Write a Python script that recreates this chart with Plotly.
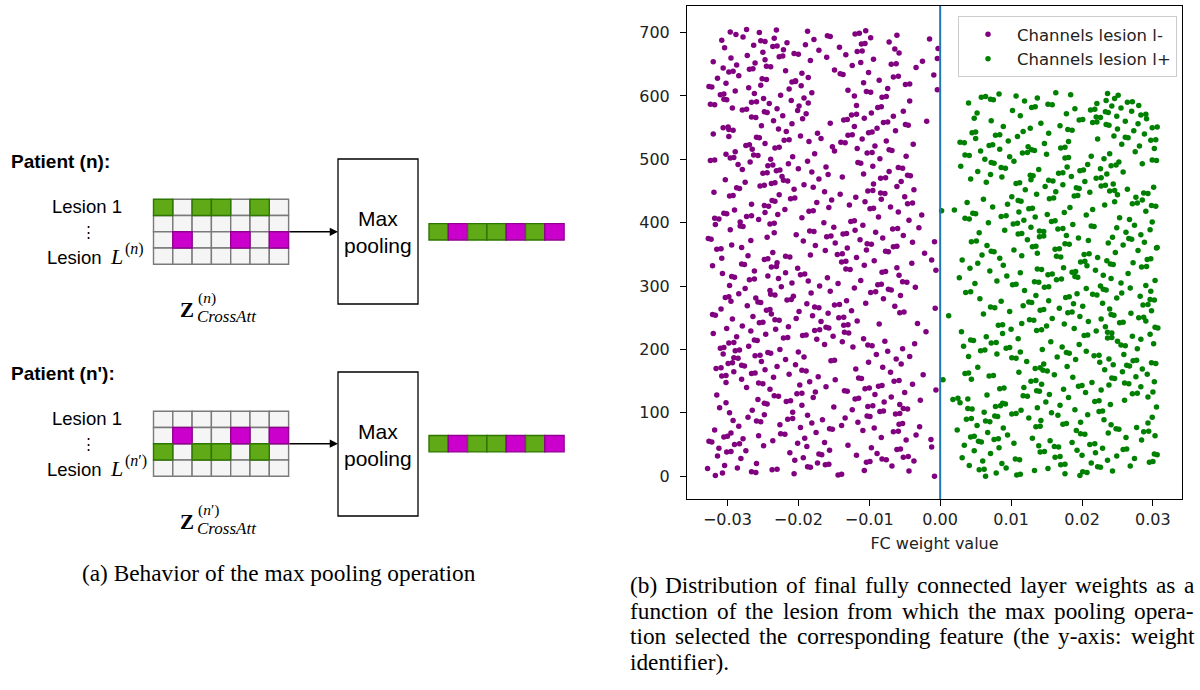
import plotly.graph_objects as go

# ---------------- DATA ----------------
# FC weights whose max-pooled channel came from lesion l- (list index = weight identifier)
weights_lesion_minus = [
    -0.0008, -0.0317, -0.0144, -0.0139, -0.0206, -0.0307, -0.0260, -0.0266, -0.0044, -0.0107, -0.0237, -0.0230, -0.0328, -0.0286, -0.0183, -0.0187, -0.0068, -0.0304, -0.0162, -0.0157,
    -0.0259, -0.0173, -0.0104, -0.0099, -0.0037, -0.0205, -0.0076, -0.0082, -0.0281, -0.0193, -0.0052, -0.0045, -0.0314, -0.0118, -0.0167, -0.0171, -0.0089, -0.0212, -0.0301, -0.0295,
    -0.0274, -0.0156, -0.0061, -0.0056, -0.0312, -0.0097, -0.0012, -0.0188, -0.0249, -0.0130, -0.0290, -0.0283, -0.0201, -0.0163, -0.0322, -0.0326, -0.0236, -0.0048, -0.0013, -0.0278,
    -0.0191, -0.0083, -0.0305, -0.0300, -0.0256, -0.0034, -0.0219, -0.0225, -0.0295, -0.0175, -0.0066, -0.0059, -0.0109, -0.0318, -0.0152, -0.0156, -0.0093, -0.0197, -0.0029, -0.0284,
    -0.0139, -0.0226, -0.0058, -0.0053, -0.0181, -0.0116, -0.0253, -0.0259, -0.0292, -0.0166, -0.0215, -0.0208, -0.0134, -0.0271, -0.0099, -0.0103, -0.0187, -0.0248, -0.0063, -0.0057,
    -0.0297, -0.0208, -0.0085, -0.0080, -0.0265, -0.0124, -0.0046, -0.0052, -0.0311, -0.0150, -0.0102, -0.0095, -0.0195, -0.0057, -0.0244, -0.0248, -0.0302, -0.0079, -0.0217, -0.0211,
    -0.0028, -0.0257, -0.0120, -0.0115, -0.0179, -0.0069, -0.0228, -0.0234, -0.0315, -0.0092, -0.0202, -0.0195, -0.0050, -0.0176, -0.0131, -0.0135, -0.0006, -0.0240, -0.0106, -0.0100,
    -0.0273, -0.0161, -0.0087, -0.0082, -0.0198, -0.0039, -0.0250, -0.0256, -0.0302, -0.0184, -0.0065, -0.0058, -0.0148, -0.0280, -0.0111, -0.0115, -0.0235, -0.0172, -0.0308, -0.0302,
    -0.0024, -0.0213, -0.0266, -0.0261, -0.0070, -0.0291, -0.0189, -0.0195, -0.0247, -0.0119, -0.0316, -0.0309, -0.0081, -0.0230, -0.0276, -0.0280, -0.0204, -0.0055, -0.0299, -0.0293,
    -0.0101, -0.0252, -0.0154, -0.0149, -0.0218, -0.0062, -0.0285, -0.0291, -0.0192, -0.0043, -0.0261, -0.0254, -0.0090, -0.0306, -0.0239, -0.0243, -0.0200, -0.0074, -0.0289, -0.0283,
    -0.0226, -0.0053, -0.0310, -0.0305, -0.0123, -0.0270, -0.0096, -0.0102, -0.0163, -0.0036, -0.0298, -0.0291, -0.0138, -0.0078, -0.0258, -0.0262, -0.0174, -0.0108, -0.0221, -0.0215,
    -0.0287, -0.0151, -0.0194, -0.0189, -0.0246, -0.0320, -0.0129, -0.0135, -0.0020, -0.0267, -0.0177, -0.0170, -0.0232, -0.0301, -0.0157, -0.0161, -0.0214, -0.0279, -0.0136, -0.0130,
    -0.0086, -0.0032, -0.0255, -0.0250, -0.0168, -0.0117, -0.0227, -0.0233, -0.0293, -0.0203, -0.0143, -0.0136, -0.0264, -0.0180, -0.0317, -0.0321, -0.0238, -0.0158, -0.0057, -0.0051,
    -0.0199, -0.0125, -0.0245, -0.0240, -0.0309, -0.0007, -0.0171, -0.0177, -0.0064, -0.0272, -0.0149, -0.0142, -0.0188, -0.0105, -0.0253, -0.0257, -0.0295, -0.0132, -0.0216, -0.0210,
    -0.0080, -0.0260, -0.0303, -0.0298, -0.0207, -0.0056, -0.0233, -0.0239, -0.0284, -0.0182, -0.0098, -0.0091, -0.0155, -0.0240, -0.0069, -0.0073, -0.0275, -0.0121, -0.0035, -0.0224,
    -0.0170, -0.0297, -0.0088, -0.0083, -0.0144, -0.0209, -0.0047, -0.0053, -0.0186, -0.0112, -0.0269, -0.0262, -0.0228, -0.0159, -0.0290, -0.0294, -0.0243, -0.0058, -0.0197, -0.0191,
    -0.0307, -0.0218, -0.0082, -0.0077, -0.0262, -0.0006, -0.0127, -0.0133, -0.0201, -0.0061, -0.0238, -0.0231, -0.0321, -0.0107, -0.0276, -0.0280, -0.0040, -0.0230, -0.0139, -0.0133,
    -0.0093, -0.0012, -0.0248, -0.0243, -0.0308, -0.0118, -0.0212, -0.0218, -0.0271, -0.0183, -0.0145, -0.0138, -0.0022, -0.0236, -0.0073, -0.0077, -0.0162, -0.0104, -0.0315, -0.0309,
    -0.0131, -0.0280, -0.0066, -0.0061, -0.0176, -0.0294, -0.0097, -0.0103, -0.0148, -0.0039, -0.0008, -0.0193, -0.0267, -0.0113, -0.0323, -0.0327, -0.0081, -0.0244, -0.0160, -0.0154,
    -0.0052, -0.0203, -0.0137, -0.0132, -0.0234, -0.0091, -0.0178, -0.0184, -0.0120, -0.0296, -0.0067, -0.0060, -0.0030, -0.0150, -0.0278, -0.0282, -0.0109, -0.0317, -0.0240, -0.0234,
    -0.0164, -0.0282, -0.0126, -0.0121, -0.0044, -0.0256, -0.0312, -0.0318, -0.0195, -0.0087, -0.0273, -0.0266, -0.0026, -0.0229, -0.0301, -0.0305, -0.0247, -0.0059, -0.0185, -0.0179,
    -0.0290, -0.0219, -0.0099, -0.0094, -0.0157, -0.0070, -0.0242, -0.0248, -0.0128, -0.0266, -0.0046, -0.0039, -0.0174, -0.0106, -0.0233, -0.0237, -0.0153, -0.0083, -0.0211, -0.0205,
    -0.0119, -0.0050, -0.0297, -0.0292, -0.0227, -0.0141, -0.0078, -0.0084, -0.0319, -0.0163, -0.0102, -0.0095, -0.0037, -0.0206, -0.0283, -0.0287, -0.0179, -0.0061, -0.0254, -0.0248,
    -0.0192, -0.0094, -0.0238, -0.0233, -0.0275, -0.0055, -0.0215, -0.0221, -0.0303, -0.0171, -0.0084, -0.0077, -0.0138, -0.0223, -0.0042, -0.0046, -0.0158, -0.0108, -0.0250, -0.0244,
    -0.0181, -0.0072, -0.0231, -0.0226, -0.0279, -0.0200, -0.0053, -0.0059, -0.0161, -0.0095, -0.0243, -0.0236, -0.0285, -0.0214, -0.0112, -0.0116, -0.0268, -0.0187, -0.0324, -0.0318,
    -0.0239, -0.0085, -0.0296, -0.0291, -0.0208, -0.0048, -0.0257, -0.0263, -0.0302, -0.0177, -0.0103, -0.0096, -0.0289, -0.0149, -0.0068, -0.0072, -0.0265, -0.0117, -0.0233, -0.0227,
    -0.0152, -0.0092, -0.0274, -0.0269, -0.0038, -0.0247, -0.0134, -0.0140, -0.0185, -0.0076, -0.0220, -0.0213, -0.0110, -0.0168, -0.0255, -0.0259, -0.0298, -0.0197, -0.0130, -0.0124,
    -0.0320, -0.0173, -0.0101, -0.0096, -0.0217, -0.0063, -0.0292, -0.0298, -0.0228, -0.0089, -0.0306, -0.0299, -0.0121, -0.0252, -0.0045, -0.0049, -0.0209, -0.0155, -0.0080, -0.0074,
    -0.0019, -0.0235, -0.0136, -0.0131, -0.0194, -0.0107, -0.0260, -0.0266, -0.0066, -0.0222, -0.0125, -0.0118, -0.0189, -0.0097, -0.0244, -0.0248, -0.0052, -0.0201, -0.0279, -0.0273,
    -0.0230, -0.0293, -0.0088, -0.0083, -0.0199, -0.0118, -0.0318, -0.0324, -0.0241, -0.0186, -0.0266, -0.0259, -0.0043, -0.0210, -0.0301, -0.0305, -0.0249, -0.0192, -0.0082, -0.0076,
    -0.0121, -0.0225, -0.0310, -0.0305, -0.0262, -0.0181, -0.0098, -0.0104, -0.0289, -0.0130, -0.0004, -0.0213, -0.0074, -0.0270, -0.0322, -0.0326, -0.0196, -0.0253, -0.0049, -0.0043,
    -0.0302, -0.0108, -0.0209, -0.0204, -0.0204, -0.0086, -0.0245, -0.0251, -0.0314, -0.0186, -0.0066, -0.0059, -0.0284, -0.0009, -0.0137, -0.0141, -0.0195, -0.0101, -0.0298, -0.0292,
    -0.0218, -0.0149, -0.0269, -0.0264, -0.0306, -0.0034, -0.0239, -0.0245, -0.0124, -0.0287, -0.0069, -0.0062, -0.0261, -0.0112, -0.0320, -0.0025, -0.0183, -0.0247, -0.0094, -0.0004,
    -0.0295, -0.0160, -0.0227, -0.0222, -0.0272, -0.0133, -0.0200, -0.0206, -0.0058, -0.0250, -0.0117, -0.0110, -0.0171, -0.0221, -0.0064, -0.0003, -0.0304, -0.0142, -0.0236, -0.0230,
    -0.0263, -0.0190, -0.0111, -0.0106, -0.0216, -0.0072, -0.0247, -0.0253, -0.0308, -0.0178, -0.0015, -0.0234, -0.0098, -0.0278, -0.0155, -0.0159, -0.0061, -0.0288, -0.0120, -0.0114,
    -0.0255, -0.0296, -0.0187, -0.0105, -0.0231, -0.0273,
]

# FC weights whose max-pooled channel came from lesion l+ (list index = weight identifier)
weights_lesion_plus = [
    0.0064, 0.0197, 0.0108, 0.0113, 0.0176, 0.0079, 0.0207, 0.0201, 0.0243, 0.0133, 0.0055, 0.0062, 0.0152, 0.0093, 0.0226, 0.0222, 0.0268, 0.0041, 0.0170, 0.0176,
    0.0087, 0.0213, 0.0295, 0.0300, 0.0060, 0.0236, 0.0112, 0.0106, 0.0274, 0.0031, 0.0162, 0.0169, 0.0249, 0.0200, 0.0306, 0.0302, 0.0071, 0.0219, 0.0141, 0.0147,
    0.0048, 0.0193, 0.0258, 0.0263, 0.0229, 0.0083, 0.0167, 0.0161, 0.0139, 0.0034, 0.0211, 0.0218, 0.0104, 0.0186, 0.0058, 0.0054, 0.0155, 0.0284, 0.0076, 0.0082,
    0.0130, 0.0262, 0.0043, 0.0048, 0.0303, 0.0095, 0.0204, 0.0198, 0.0237, 0.0067, 0.0287, 0.0294, 0.0192, 0.0024, 0.0252, 0.0248, 0.0089, 0.0277, 0.0135, 0.0141,
    0.0052, 0.0241, 0.0173, 0.0178, 0.0293, 0.0198, 0.0070, 0.0064, 0.0142, 0.0231, 0.0037, 0.0044, 0.0125, 0.0299, 0.0081, 0.0077, 0.0166, 0.0208, 0.0101, 0.0107,
    0.0157, 0.0062, 0.0224, 0.0229, 0.0114, 0.0190, 0.0045, 0.0039, 0.0137, 0.0305, 0.0078, 0.0085, 0.0169, 0.0240, 0.0092, 0.0088, 0.0028, 0.0149, 0.0218, 0.0224,
    0.0260, 0.0018, 0.0039, 0.0025, 0.0181, 0.0293, 0.0123, 0.0117, 0.0066, 0.0154, 0.0271, 0.0278, 0.0205, 0.0300, 0.0140, 0.0136, 0.0227, 0.0174, 0.0084, 0.0090,
    0.0118, 0.0283, 0.0195, 0.0200, 0.0238, 0.0143, 0.0266, 0.0260, 0.0214, 0.0302, 0.0128, 0.0135, 0.0004, 0.0044, 0.0246, 0.0242, 0.0187, 0.0276, 0.0069, 0.0075,
    0.0161, 0.0292, 0.0035, 0.0040, 0.0111, 0.0257, 0.0151, 0.0145, 0.0232, 0.0285, 0.0134, 0.0141, 0.0053, 0.0179, 0.0267, 0.0263, 0.0244, 0.0146, 0.0304, 0.0298,
    0.0225, 0.0122, 0.0272, 0.0277, 0.0191, 0.0238, 0.0107, 0.0101, 0.0165, 0.0040, 0.0217, 0.0224, 0.0259, 0.0080, 0.0182, 0.0178, 0.0113, 0.0206, 0.0057, 0.0063,
    0.0144, 0.0278, 0.0093, 0.0098, 0.0172, 0.0033, 0.0261, 0.0255, 0.0196, 0.0301, 0.0072, 0.0079, 0.0156, 0.0250, 0.0047, 0.0043, 0.0283, 0.0110, 0.0236, 0.0242,
    0.0065, 0.0271, 0.0203, 0.0208, 0.0296, 0.0088, 0.0242, 0.0236, 0.0030, 0.0220, 0.0136, 0.0143, 0.0100, 0.0189, 0.0307, 0.0303, 0.0233, 0.0150, 0.0082, 0.0088,
    0.0175, 0.0115, 0.0253, 0.0258, 0.0209, 0.0290, 0.0132, 0.0126, 0.0227, 0.0158, 0.0280, 0.0287, 0.0197, 0.0012, 0.0245, 0.0241, 0.0061, 0.0269, 0.0180, 0.0186,
    0.0098, 0.0298, 0.0141, 0.0146, 0.0239, 0.0168, 0.0077, 0.0071, 0.0201, 0.0117, 0.0286, 0.0293, 0.0188, 0.0229, 0.0129, 0.0125, 0.0086, 0.0153, 0.0302, 0.0296,
    0.0056, 0.0249, 0.0177, 0.0182, 0.0282, 0.0135, 0.0221, 0.0215, 0.0193, 0.0256, 0.0036, 0.0043, 0.0297, 0.0119, 0.0234, 0.0230, 0.0206, 0.0268, 0.0147, 0.0153,
    0.0226, 0.0290, 0.0102, 0.0107, 0.0049, 0.0255, 0.0139, 0.0133, 0.0080, 0.0303, 0.0164, 0.0171, 0.0241, 0.0027, 0.0194, 0.0190, 0.0094, 0.0230, 0.0152, 0.0158,
    0.0265, 0.0113, 0.0186, 0.0191, 0.0070, 0.0219, 0.0143, 0.0137, 0.0042, 0.0174, 0.0284, 0.0291, 0.0207, 0.0089, 0.0244, 0.0240, 0.0053, 0.0272, 0.0198, 0.0204,
    0.0235, 0.0031, 0.0292, 0.0297, 0.0084, 0.0222, 0.0170, 0.0164, 0.0115, 0.0059, 0.0203, 0.0210, 0.0137, 0.0247, 0.0076, 0.0072, 0.0279, 0.0104, 0.0162, 0.0168,
    0.0305, 0.0306, 0.0130, 0.0135, 0.0066, 0.0258, 0.0182, 0.0176, 0.0237, 0.0288, 0.0044, 0.0051, 0.0209, 0.0123, 0.0270, 0.0266, 0.0195, 0.0243, 0.0140, 0.0146,
    0.0178, 0.0283, 0.0110, 0.0115, 0.0055, 0.0262, 0.0146, 0.0140, 0.0091, 0.0296, 0.0166, 0.0173, 0.0249, 0.0128, 0.0217, 0.0213, 0.0274, 0.0187, 0.0103, 0.0109,
    0.0068, 0.0299, 0.0157, 0.0162, 0.0118, 0.0267, 0.0041, 0.0035, 0.0253, 0.0134, 0.0086, 0.0093, 0.0206, 0.0151, 0.0050, 0.0046, 0.0175, 0.0111, 0.0290, 0.0002,
    0.0020, 0.0215, 0.0125, 0.0130, 0.0183, 0.0074, 0.0304, 0.0298, 0.0232, 0.0095, 0.0271, 0.0278, 0.0038, 0.0246, 0.0114, 0.0110, 0.0285, 0.0061, 0.0154, 0.0160,
    0.0276, 0.0101, 0.0189, 0.0194, 0.0250, 0.0136, 0.0293, 0.0287, 0.0211, 0.0163, 0.0239, 0.0246, 0.0120, 0.0264, 0.0196, 0.0192, 0.0301, 0.0148, 0.0227, 0.0233,
    0.0173, 0.0244, 0.0107, 0.0112, 0.0065, 0.0204, 0.0159, 0.0153, 0.0128, 0.0043, 0.0220, 0.0227, 0.0087, 0.0185, 0.0131, 0.0127, 0.0071, 0.0235, 0.0167, 0.0173,
    0.0258, 0.0053, 0.0197, 0.0202, 0.0139, 0.0226, 0.0092, 0.0086, 0.0179, 0.0029, 0.0241, 0.0248, 0.0208, 0.0285, 0.0076, 0.0072, 0.0252, 0.0104, 0.0305, 0.0299,
    0.0063, 0.0231, 0.0176, 0.0181, 0.0098, 0.0213, 0.0041, 0.0035, 0.0150, 0.0239, 0.0116, 0.0123, 0.0275, 0.0057, 0.0133, 0.0129, 0.0084, 0.0302, 0.0170, 0.0176,
    0.0124, 0.0281, 0.0069, 0.0074, 0.0256, 0.0147, 0.0034, 0.0028, 0.0181, 0.0096, 0.0297, 0.0304, 0.0222, 0.0050, 0.0265, 0.0261, 0.0109, 0.0245, 0.0078, 0.0084,
    0.0288, 0.0153, 0.0045, 0.0050, 0.0117, 0.0273, 0.0186, 0.0180, 0.0250, 0.0127, 0.0299, 0.0306, 0.0089, 0.0169, 0.0238, 0.0234, 0.0279, 0.0142, 0.0215, 0.0221,
    0.0261, 0.0072, 0.0196, 0.0201, 0.0291, 0.0048, 0.0226, 0.0220, 0.0249, 0.0113, 0.0283, 0.0290, 0.0178, 0.0052, 0.0237, 0.0233, 0.0270, 0.0102, 0.0212, 0.0218,
    0.0190, 0.0255, 0.0129, 0.0134, 0.0242, 0.0280, 0.0158, 0.0152, 0.0221, 0.0040, 0.0264, 0.0271, 0.0119, 0.0234, 0.0075, 0.0071, 0.0246, 0.0137, 0.0058, 0.0064,
    0.0107, 0.0251, 0.0184, 0.0083, 0.0236, 0.0163,
]

series_names = ["Channels lesion l-", "Channels lesion l+"]
x_tick_values = [-0.03, -0.02, -0.01, 0.0, 0.01, 0.02, 0.03]
x_tick_labels = ["\u22120.03", "\u22120.02", "\u22120.01", "0.00", "0.01", "0.02", "0.03"]
y_tick_values = [0, 100, 200, 300, 400, 500, 600, 700]
x_axis_title = "FC weight value"

# Diagram content: cell states (G = green / lesion l+, P = purple / lesion l-, W = not selected)
patient_n_cells = [
    ["G", "W", "G", "G", "W", "G", "W"],
    ["W", "W", "W", "W", "W", "W", "W"],
    ["W", "P", "W", "W", "P", "W", "P"],
    ["W", "W", "W", "W", "W", "W", "W"],
]
patient_n2_cells = [
    ["W", "W", "W", "W", "W", "W", "W"],
    ["W", "P", "W", "W", "P", "W", "P"],
    ["G", "W", "G", "G", "W", "G", "W"],
    ["W", "W", "W", "W", "W", "W", "W"],
]
pooled_vector = ["G", "P", "G", "G", "P", "G", "P"]
patient_labels = ["Patient (n):", "Patient (n'):"]
caption_a = "(a) Behavior of the max pooling operation"
caption_b_lines = [
    "(b) Distribution of final fully connected layer weights as a",
    "function of the lesion from which the max pooling opera-",
    "tion selected the corresponding feature (the y-axis: weight",
    "identifier).",
]

# ---------------- FIGURE ----------------
W, H = 1200, 690


def X(px):
    return px / W


def Y(py):
    return 1 - py / H


fig = go.Figure()
fig.add_trace(go.Scatter(
    x=weights_lesion_minus, y=list(range(len(weights_lesion_minus))),
    mode="markers", name=series_names[0],
    marker=dict(color="#800080", size=5.5, line=dict(width=0)),
))
fig.add_trace(go.Scatter(
    x=weights_lesion_plus, y=list(range(len(weights_lesion_plus))),
    mode="markers", name=series_names[1],
    marker=dict(color="#008000", size=5.5, line=dict(width=0)),
))

shapes = []
annotations = []

shapes.append(dict(type="line", xref="x", yref="y domain", x0=0, x1=0, y0=0, y1=1,
                   line=dict(color="#1f77b4", width=2)))

FILL = {"G": "#60a917", "P": "#cc00cc", "W": "#f5f5f5"}
STROKE = {"G": "#2d7600", "P": "#8f008f", "W": "#7a7a7a"}

SANS = "Liberation Sans, Arial, sans-serif"
SERIF = "Liberation Serif, Times New Roman, serif"
MPL = "DejaVu Sans"


def ann(text, px, py, size, family=SANS, xanchor="left", **kw):
    annotations.append(dict(text=text, x=X(px), y=Y(py), xref="paper", yref="paper",
                            xanchor=xanchor, yanchor="middle", showarrow=False,
                            font=dict(family=family, size=size, color="#000"), **kw))


def draw_cells(cells, left, top, cw, ch):
    for pass_colored in (False, True):
        for r, row in enumerate(cells):
            for c, v in enumerate(row):
                if (v != "W") != pass_colored:
                    continue
                shapes.append(dict(
                    type="rect", xref="paper", yref="paper",
                    x0=X(left + c * cw), x1=X(left + (c + 1) * cw),
                    y0=Y(top + r * ch), y1=Y(top + (r + 1) * ch),
                    fillcolor=FILL[v], line=dict(color=STROKE[v], width=1.4),
                ))


def draw_block(cells, grid_top, box_top, box_bot, label, prime):
    gl, cw, ch = 153.5, 19.3, 16.25
    mid = grid_top + 2 * ch
    ann("<b>%s</b>" % label, 9, grid_top - 38, 19)
    ann("Lesion 1", 124, grid_top + 7, 18.5, xanchor="right")
    ann("\u22ee", 88, mid, 15, xanchor="center")
    sup = "(<i>n</i>\u2032)" if prime else "(<i>n</i>)"
    ann("Lesion", 104, grid_top + 58, 18.5, xanchor="right")
    ann("<i>L</i>", 108, grid_top + 57, 22, family=SERIF)
    ann(sup, 123, grid_top + 50, 16, family=SERIF)
    draw_cells(cells, gl, grid_top, cw, ch)
    # Z label
    ann("<b>Z</b>", 187, grid_top + 111, 21, family=SERIF, xanchor="center")
    ann(sup, 196, grid_top + 99, 15.5, family=SERIF)
    ann("<i>CrossAtt</i>", 195, grid_top + 117, 17, family=SERIF)
    # arrow
    annotations.append(dict(text="", x=X(338), y=Y(mid), xref="paper", yref="paper",
                            ax=-50, ay=0, showarrow=True, arrowhead=2, arrowsize=1.1,
                            arrowwidth=1.5, arrowcolor="#000", standoff=0))
    shapes.append(dict(type="rect", xref="paper", yref="paper", x0=X(338), x1=X(418),
                       y0=Y(box_top), y1=Y(box_bot), fillcolor="white",
                       line=dict(color="#000", width=1.3)))
    ann("Max<br>pooling", 378, (box_top + box_bot) / 2 + 1, 21, xanchor="center")
    draw_cells([pooled_vector], 429, mid - 8.2, 19.3, 16.4)


draw_block(patient_n_cells, 199.3, 159, 304, patient_labels[0], False)
draw_block(patient_n2_cells, 411.2, 372, 516, patient_labels[1], True)

# ---- captions (Times metrics, used to justify caption (b) like the LaTeX original) ----
CAP_SIZE = 23.3
TIMES_W = {" ": 250, "(": 333, ")": 333, "-": 333, ".": 250, ":": 278, "a": 444, "b": 500,
           "c": 444, "d": 500, "e": 444, "f": 333, "g": 500, "h": 500, "i": 278, "j": 278,
           "k": 500, "l": 278, "m": 778, "n": 500, "o": 500, "p": 500, "q": 500, "r": 333,
           "s": 389, "t": 278, "u": 500, "v": 500, "w": 722, "x": 500, "y": 500, "z": 444,
           "D": 722, "B": 667}


def text_w(s):
    return sum(TIMES_W.get(ch, 500) for ch in s) / 1000.0 * CAP_SIZE


ann(caption_a, 80, 573, CAP_SIZE, family=SERIF)
cap_left, cap_right = 628, 1192
for i, line in enumerate(caption_b_lines):
    py = 585 + i * 25.5
    words = line.split(" ")
    if i == len(caption_b_lines) - 1 or len(words) < 2:
        ann(line, cap_left, py, CAP_SIZE, family=SERIF)
        continue
    total = sum(text_w(w) for w in words)
    gap = (cap_right - cap_left - total) / (len(words) - 1)
    cx = cap_left
    for w in words:
        ann(w, cx, py, CAP_SIZE, family=SERIF)
        cx += text_w(w) + gap

AX_FONT = dict(family=MPL, size=16, color="#222")

fig.update_layout(
    width=W, height=H,
    margin=dict(l=0, r=0, t=0, b=0),
    paper_bgcolor="white", plot_bgcolor="white",
    showlegend=True,
    legend=dict(x=X(1177), y=Y(16), xanchor="right", yanchor="top",
                bgcolor="rgba(255,255,255,0.9)", bordercolor="#cccccc", borderwidth=1,
                font=dict(family=MPL, size=16.5, color="#222"),
                itemsizing="trace", itemwidth=48, tracegroupgap=0),
    xaxis=dict(domain=[X(687), X(1182)], range=[-0.0357, 0.0341],
               tickvals=x_tick_values, ticktext=x_tick_labels,
               ticks="outside", ticklen=6, tickwidth=1, tickcolor="#000",
               showline=True, linecolor="#000", linewidth=1, mirror=True,
               showgrid=False, zeroline=False, tickfont=AX_FONT,
               title=dict(text=x_axis_title, font=AX_FONT, standoff=9)),
    yaxis=dict(domain=[Y(499), Y(6)], range=[-36, 742],
               tickvals=y_tick_values,
               ticks="outside", ticklen=6, tickwidth=1, tickcolor="#000",
               ticklabelstandoff=7,
               showline=True, linecolor="#000", linewidth=1, mirror=True,
               showgrid=False, zeroline=False, tickfont=AX_FONT),
    shapes=shapes,
    annotations=annotations,
)

fig.write_html("out.html")
